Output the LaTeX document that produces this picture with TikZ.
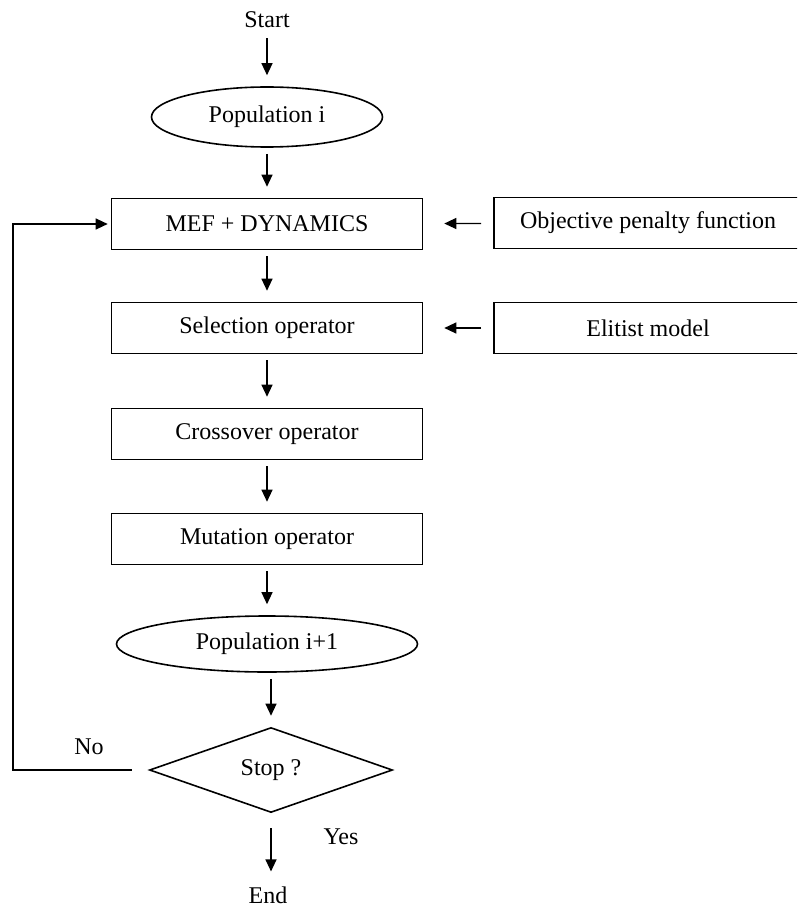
\documentclass[tikz,border=0pt]{standalone}
\usepackage{fontspec}
\setmainfont{Liberation Serif}
\usetikzlibrary{shapes.geometric,arrows.meta}
\begin{document}
\begin{tikzpicture}[x=1pt, y=-1pt, font=\fontsize{24}{29}\selectfont, line width=1.6pt, >={Triangle[length=12pt,width=11pt]}]
\tikzstyle{block} = [draw, rectangle, minimum width=311pt, minimum height=51pt, inner sep=0pt];
\tikzstyle{extblock} = [draw, rectangle, minimum width=308pt, minimum height=51pt, inner sep=0pt];
\tikzstyle{pop} = [draw, ellipse, inner sep=0pt];
\tikzstyle{decision} = [draw, diamond, aspect=2.9, minimum width=243pt, minimum height=85pt, inner sep=0pt];
\tikzstyle{flow} = [->, line width=1.2pt, shorten <=6pt, shorten >=11pt];
\tikzstyle{side} = [->, line width=1.2pt, shorten <=12pt, shorten >=21pt];
\clip (0,0) rectangle (797,909);
\node (start) at (267, 20) {Start};
\node[pop, minimum width=231pt, minimum height=60pt] (pop1) at (267, 117) {Population i};
\node[block] (mef) at (267, 224) {MEF + DYNAMICS};
\node[extblock] (obj) at (648, 223) {Objective penalty function};
\node[block] (sel) at (267, 328) {Selection operator};
\node[extblock] (elit) at (648, 328) {Elitist model};
\node[block] (cross) at (267, 434) {Crossover operator};
\node[block] (mut) at (267, 539) {Mutation operator};
\node[pop, minimum width=301pt, minimum height=56pt] (pop2) at (267, 644) {Population i+1};
\node[decision] (stop) at (271, 770) {Stop ?};
\node (end) at (268, 895) {End};
\node (no) at (89, 747) {No};
\node (yes) at (341, 837) {Yes};
\coordinate (loop) at (13, 770);
\draw[flow] (start) -- (pop1);
\draw[flow] (pop1) -- (mef);
\draw[flow] (mef) -- (sel);
\draw[flow] (sel) -- (cross);
\draw[flow] (cross) -- (mut);
\draw[flow] (mut) -- (pop2);
\draw[flow] (pop2.south -| stop.north) -- (stop.north);
\draw[flow, shorten <=15pt] (stop.south) -- (stop.south |- end.north);
\draw[side] (obj) -- (mef);
\draw[side] (elit) -- (sel);
\draw[->, line width=1.2pt, shorten <=17pt, shorten >=3pt] (stop.west) -- (loop) |- (mef.west);
\end{tikzpicture}
\end{document}
